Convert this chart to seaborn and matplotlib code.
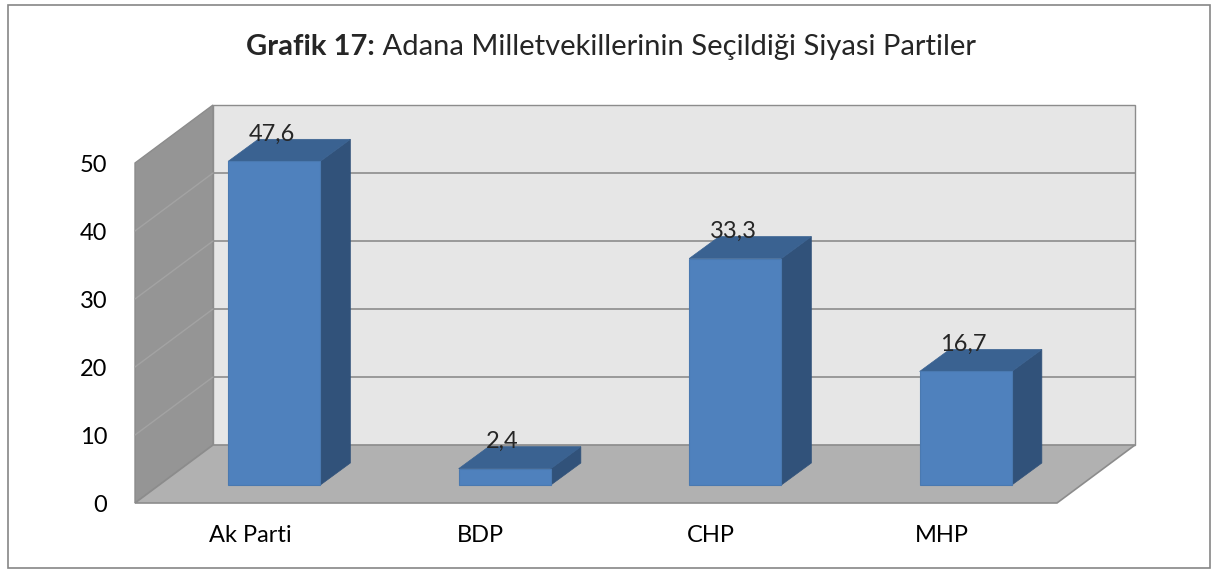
import numpy as np
import seaborn as sns
import matplotlib.pyplot as plt
from matplotlib.patches import Polygon, Rectangle

parties = ['Ak Parti', 'BDP', 'CHP', 'MHP']
shares = [47.6, 2.4, 33.3, 16.7]
share_labels = ['47,6', '2,4', '33,3', '16,7']
y_ticks = [0, 10, 20, 30, 40, 50]

sns.set_theme(style='white')
plt.rcParams['font.family'] = ['Lato', 'DejaVu Sans']

W, H = 1219, 574
fig = plt.figure(figsize=(W / 100, H / 100), dpi=100)
# front plane of the 3d box, in figure pixels
L, R, B, T = 135, 1057, 503, 163
ax = fig.add_axes([L / W, 1 - B / H, (R - L) / W, (B - T) / H])
ax.set_facecolor('none')

sns.barplot(x=parties, y=shares, color='#4F81BD', width=0.4, saturation=1,
            linewidth=0, ax=ax, zorder=5)
ax.set_xlim(-0.5, len(parties) - 0.5)
ax.set_ylim(0, 50)
ax.set_yticks(y_ticks)
for s in ax.spines.values():
    s.set_visible(False)
ax.set_xlabel('')
ax.set_ylabel('')
ax.tick_params(axis='both', length=0, labelsize=17, colors='black')
ax.tick_params(axis='y', pad=20)
ax.tick_params(axis='x', pad=16)

to_disp = ax.transData.transform
to_data = ax.transData.inverted().transform


def shifted(pts, dx, dy):
    # data points -> moved by (dx, dy) pixels -> back to data
    return to_data(to_disp(np.asarray(pts, float)) + np.array([dx, dy]))


def face(pts, **kw):
    ax.add_patch(Polygon(pts, closed=True, clip_on=False, **kw))


wall_dx, wall_dy = 78, 58
bar_dx, bar_dy = 24, 18
depth_dx, depth_dy = 30, 22

x0, x1 = ax.get_xlim()
ytop = ax.get_ylim()[1]
edge = '#8C8C8C'

# back wall
bw = shifted([(x0, 0), (x1, 0), (x1, ytop), (x0, ytop)], wall_dx, wall_dy)
face(bw, facecolor='#E6E6E6', edgecolor=edge, lw=1, zorder=1)
# left wall
lw_front = [(x0, 0), (x0, ytop)]
lw_back = shifted([(x0, ytop), (x0, 0)], wall_dx, wall_dy)
face(np.vstack([lw_front, lw_back]), facecolor='#959595', edgecolor=edge,
     lw=1, zorder=2)
# floor
fl_back = shifted([(x1, 0), (x0, 0)], wall_dx, wall_dy)
face(np.vstack([[(x0, 0), (x1, 0)], fl_back]), facecolor='#B1B1B1',
     edgecolor=edge, lw=1.2, zorder=2)

# gridlines on the back and left walls
for v in y_ticks[1:-1]:
    g = shifted([(x0, v), (x1, v)], wall_dx, wall_dy)
    ax.plot(g[:, 0], g[:, 1], color=edge, lw=1.2, zorder=1.5, clip_on=False)
    ax.plot([x0, g[0, 0]], [v, g[0, 1]], color='#A3A3A3', lw=1,
            zorder=2.5, clip_on=False)

# bars: move front faces into the box and add side and top faces
for p, lab in zip(ax.patches[:len(shares)], share_labels):
    bx, bwid, bh = p.get_x(), p.get_width(), p.get_height()
    fr = shifted([(bx, 0), (bx + bwid, 0), (bx + bwid, bh), (bx, bh)],
                 bar_dx, bar_dy)
    p.set_visible(False)
    bk = shifted(fr, depth_dx, depth_dy)
    face([fr[1], bk[1], bk[2], fr[2]], facecolor='#31527A', edgecolor='#31527A',
         lw=0.5, zorder=5)
    face([fr[3], fr[2], bk[2], bk[3]], facecolor='#3A6291', edgecolor='#3A6291',
         lw=0.5, zorder=5)
    face(fr, facecolor='#4F81BD', edgecolor='#4A79B0', lw=0.8, zorder=6)
    ax.annotate(lab, xy=((fr[2, 0] + fr[3, 0]) / 2, fr[2, 1]),
                xytext=(-1.5, 15), textcoords='offset points', ha='center',
                va='baseline', fontsize=17, zorder=8, annotation_clip=False)

# outer border
fig.patches.append(Rectangle((8 / W, 1 - 568 / H), 1202 / W, 563 / H,
                             transform=fig.transFigure, fill=False,
                             edgecolor='#868686', lw=1.2))

# title: bold prefix followed by regular text, centred as a whole
ty = 1 - 47 / H
t1 = fig.text(0, ty, 'Grafik 17:', fontsize=21, fontweight='bold', va='center')
t2 = fig.text(0, ty, ' Adana Milletvekillerinin Seçildiği Siyasi Partiler',
              fontsize=21, va='center')
r = fig.canvas.get_renderer()
w1 = t1.get_window_extent(r).width
w2 = t2.get_window_extent(r).width
start = (611 - (w1 + w2) / 2)
t1.set_x(start / W)
t2.set_x((start + w1) / W)

fig.savefig('out.png', dpi=100)
